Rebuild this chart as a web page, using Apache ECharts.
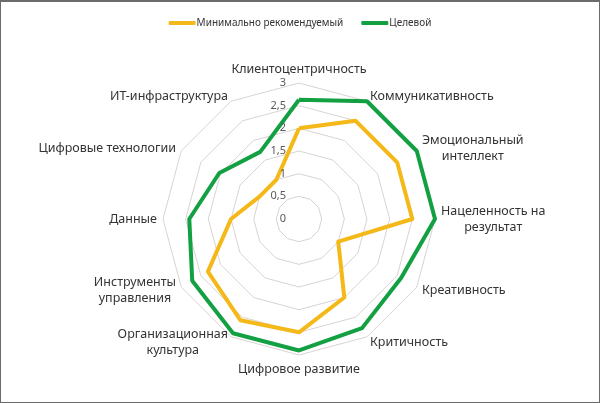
<!DOCTYPE html>
<html>
<head>
<meta charset="utf-8">
<script src="https://cdn.jsdelivr.net/npm/echarts@6/dist/echarts.min.js"></script>
<style>
	html, body { margin: 0; padding: 0; background: #fff; }
	#chart { width: 600px; height: 403px; box-sizing: border-box; border: 1px solid #6b6b6b; border-top-width: 2px; }
</style>
</head>
<body>
<div id="chart"></div>
<script>
	// оси по часовой стрелке, начиная сверху
	var axisNames = ['Клиентоцентричность', 'Коммуникативность', 'Эмоциональный\nинтеллект', 'Нацеленность на\nрезультат',
		'Креативность', 'Критичность', 'Цифровое развитие', 'Организационная\nкультура',
		'Инструменты\nуправления', 'Данные', 'Цифровые технологии', 'ИТ-инфраструктура'];
	var seriesNames = ['Минимально рекомендуемый', 'Целевой'];
	var minValues = [2.0, 2.5, 2.5, 2.5, 1.0, 2.0, 2.5, 2.58, 2.32, 1.5, 1.0, 1.0];
	var targetValues = [2.63, 3.0, 3.0, 3.0, 2.6, 2.78, 2.9, 2.91, 2.72, 2.42, 2.03, 1.71];
	var tickValues = [0, 0.5, 1, 1.5, 2, 2.5, 3];

	var colors = ['#F4B918', '#13A043'];

	// echarts раскладывает индикаторы против часовой - разворачиваем
	function cw(arr) {
		return [arr[0]].concat(arr.slice(1).reverse());
	}

	var indicators = cw(axisNames).map(function (n) {
		return { name: n, min: 0, max: tickValues[tickValues.length - 1] };
	});

	var chart = echarts.init(document.getElementById('chart'));
	var option = {
		animation: false,
		color: colors,
		legend: {
			top: 11,
			left: 'center',
			icon: 'roundRect',
			itemWidth: 27,
			itemHeight: 4,
			itemGap: 18,
			textStyle: { fontFamily: 'Noto Sans', fontSize: 10, color: '#333', padding: [0, 0, 0, -4] },
			data: seriesNames
		},
		radar: {
			center: [298, 217],
			radius: 136,
			shape: 'polygon',
			splitNumber: 6,
			nameGap: 6,
			indicator: indicators,
			axisName: {
				color: '#333',
				fontFamily: 'Noto Sans',
				fontSize: 12.5,
				formatter: function (name) {
					return name.split('\n').map(function (s) { return '{c|' + s + '}'; }).join('\n');
				},
				rich: { c: { align: 'center', fontFamily: 'Noto Sans', fontSize: 12.5, color: '#333', lineHeight: 16 } }
			},
			axisLine: { show: false },
			splitLine: { lineStyle: { color: '#DAD2D2', width: 1 } },
			splitArea: { show: false }
		},
		// отдельная полярная система только для подписей шкалы слева от верхней оси
		polar: {
			center: [293, 217],
			radius: 136
		},
		angleAxis: {
			show: false,
			startAngle: 90
		},
		radiusAxis: {
			z: 10,
			min: 0,
			max: 3,
			interval: 0.5,
			axisLine: { show: false },
			axisTick: { show: false },
			splitLine: { show: false },
			axisLabel: {
				color: '#595959',
				fontFamily: 'Noto Sans',
				fontSize: 11,
				formatter: function (v) { return String(v).replace('.', ','); }
			}
		},
		series: [{
			type: 'radar',
			symbol: 'none',
			lineStyle: { width: 4 },
			data: [
				{ name: seriesNames[0], value: cw(minValues), lineStyle: { color: colors[0], width: 4 } },
				{ name: seriesNames[1], value: cw(targetValues), lineStyle: { color: colors[1], width: 4 } }
			]
		}]
	};
	chart.setOption(option);
</script>
</body>
</html>
